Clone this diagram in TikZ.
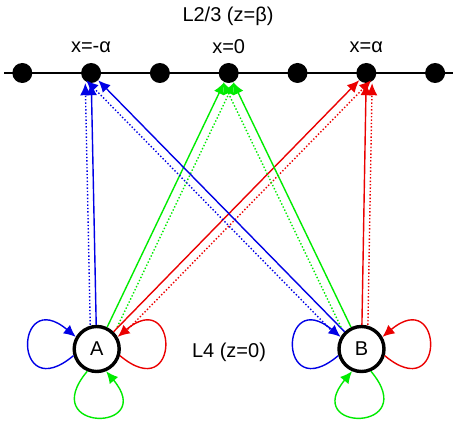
\documentclass[tikz,border=0pt]{standalone}
\usepackage{fontspec}
\setmainfont{Liberation Sans}
\usepackage{xcolor}
\usetikzlibrary{arrows.meta}
\usetikzlibrary{calc}
\definecolor{cblue}{RGB}{0,0,230}
\definecolor{cgreen}{RGB}{0,235,0}
\definecolor{cred}{RGB}{235,0,0}

\begin{document}
\begin{tikzpicture}[x=1pt,y=1pt,font=\fontsize{20}{24}\selectfont,
    cell/.style={circle,fill=black,minimum size=20pt,inner sep=0pt},
    neuron/.style={circle,draw,line width=3.4pt,minimum size=45pt,inner sep=0pt},
    link/.style={-{Latex[length=12pt,width=11pt]},line width=1.4pt},
    dots/.style={link,dotted}]
      \useasboundingbox (0,0) rectangle (458,423);
      \coordinate (west) at (4,350);
      \coordinate (east) at (453,350);
      \draw[line width=1.4pt] (west) -- (east);
      \foreach \i in {-3,...,3}
        \node[cell] (d\i) at (228.7+68.8*\i,350) {};
      \node (l23) at (228,407) {L2/3 (z=β)};
      \node (xm) at (91,376) {x=-α};
      \node (x0) at (228.7,376) {x=0};
      \node (xp) at (366.3,376) {x=α};

      \node[neuron] (A) at (96.7,74) {A};
      \node[neuron] (B) at (361.5,74) {B};
      \node (l4) at (229,71) {L4 (z=0)};

      % feedforward
      \draw[link,cblue] (A) -- (d-2);
      \draw[dots,cblue,transform canvas={xshift=-6pt}] (A) -- (d-2);
      \draw[link,cgreen] (A) -- (d0);
      \draw[dots,cgreen,transform canvas={xshift=10pt}] (A) -- (d0);
      \draw[link,cred] (A) -- (d2);
      \draw[dots,cred,transform canvas={xshift=12pt}] (A) -- (d2);
      \draw[link,cblue] (B) -- (d-2);
      \draw[dots,cblue,transform canvas={xshift=-12pt}] (B) -- (d-2);
      \draw[link,cgreen] (B) -- (d0);
      \draw[dots,cgreen,transform canvas={xshift=-10pt}] (B) -- (d0);
      \draw[link,cred] (B) -- (d2);
      \draw[dots,cred,transform canvas={xshift=6pt}] (B) -- (d2);

      % recurrent
      \foreach \n in {A,B} {
        \draw[link,cblue] (\n.196) .. controls +(220:80) and +(140:80) .. (\n.150);
        \draw[link,cred] (\n.344) .. controls +(320:80) and +(40:80) .. (\n.30);
      }
      \draw[link,cgreen] (A.247) .. controls +(230:80) and +(310:80) .. (A.293);
      \draw[link,cgreen] (B.293) .. controls +(310:80) and +(230:80) .. (B.247);
\end{tikzpicture}
\end{document}
